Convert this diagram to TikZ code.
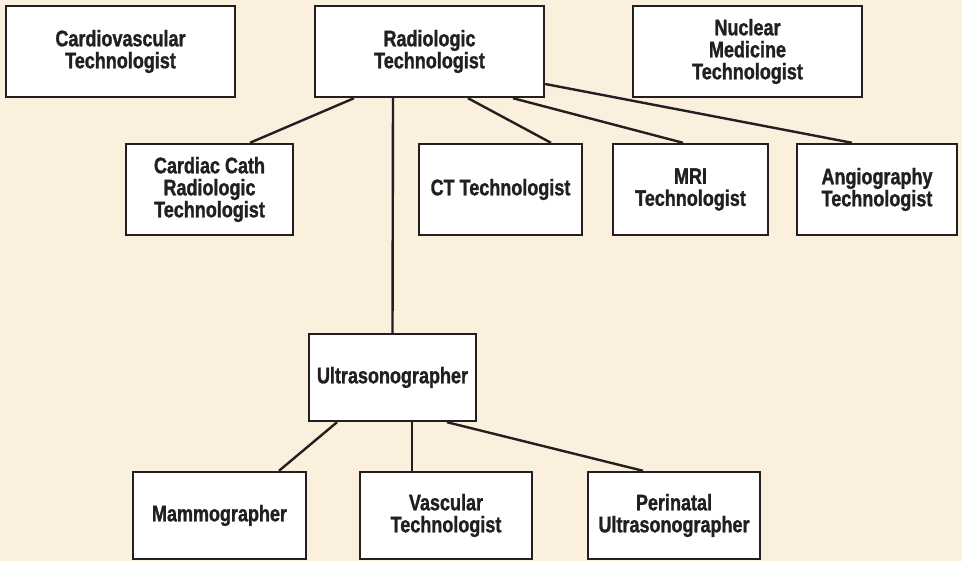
\documentclass[tikz,border=0pt]{standalone}
\usepackage{fontspec}
\setmainfont{Liberation Sans}[FakeStretch=0.8,BoldFeatures={FakeBold=1.2}]
\usetikzlibrary{positioning, calc}
\definecolor{paper}{RGB}{251,239,222}
\definecolor{ink}{RGB}{35,31,32}
\tikzset{job/.style={rectangle,draw=ink,line width=2.4pt,fill=white,text=ink,inner sep=0pt,
    font=\bfseries\fontsize{22.5}{22}\selectfont,align=center,minimum height=91pt}}

\begin{document}
\begin{tikzpicture}[x=1pt,y=1pt,link/.style={draw=ink,line width=2.4pt}]

            \fill[paper] (0,0) rectangle (962,-561);

            \node[job,minimum width=229pt] (cardio) at (120.5,-51.5) {Cardiovascular\\Technologist};
            \node[job,minimum width=229pt] (rad) at (429.5,-51.5) {Radiologic\\Technologist};
            \node[job,minimum width=229pt] (nuc) at (747.5,-51.5) {Nuclear\\Medicine\\Technologist};

            \node[job,minimum width=167pt] (cath) at (209.5,-189.5) {Cardiac Cath\\Radiologic\\Technologist};
            \node[job,minimum width=163pt] (ct) at (500.5,-189.5) {CT Technologist};
            \node[job,minimum width=155pt] (mri) at (690.5,-189.5) {MRI\\Technologist};
            \node[job,minimum width=160pt] (angio) at (877,-189.5) {Angiography\\Technologist};

            \node[job,minimum width=167pt,minimum height=87pt] (ultra) at (392.5,-377.5) {Ultrasonographer};

            \node[job,minimum width=173pt,minimum height=87pt] (mammo) at (219.5,-515.5) {Mammographer};
            \node[job,minimum width=172pt,minimum height=87pt] (vasc) at (446,-515.5) {Vascular\\Technologist};
            \node[job,minimum width=172pt,minimum height=87pt] (peri) at (674,-515.5) {Perinatal\\Ultrasonographer};

            \draw[link] ([xshift=-75.5pt]rad.south) -- ([xshift=40.5pt]cath.north);
            \draw[link] ([xshift=-36.5pt]rad.south) -- (ultra.north);
            \draw[link] ([xshift=38.5pt]rad.south) -- ([xshift=50.5pt]ct.north);
            \draw[link] ([xshift=83.5pt]rad.south) -- ([xshift=-7.5pt]mri.north);
            \draw[link] ([yshift=-32.5pt]rad.east) -- ([xshift=-25pt]angio.north);

            \draw[link] ([xshift=-55.5pt]ultra.south) -- ([xshift=59.5pt]mammo.north);
            \draw[link] ([xshift=19.5pt]ultra.south) -- ([xshift=-34pt]vasc.north);
            \draw[link] ([xshift=54.5pt]ultra.south) -- ([xshift=-31pt]peri.north);
            \end{tikzpicture}
\end{document}
